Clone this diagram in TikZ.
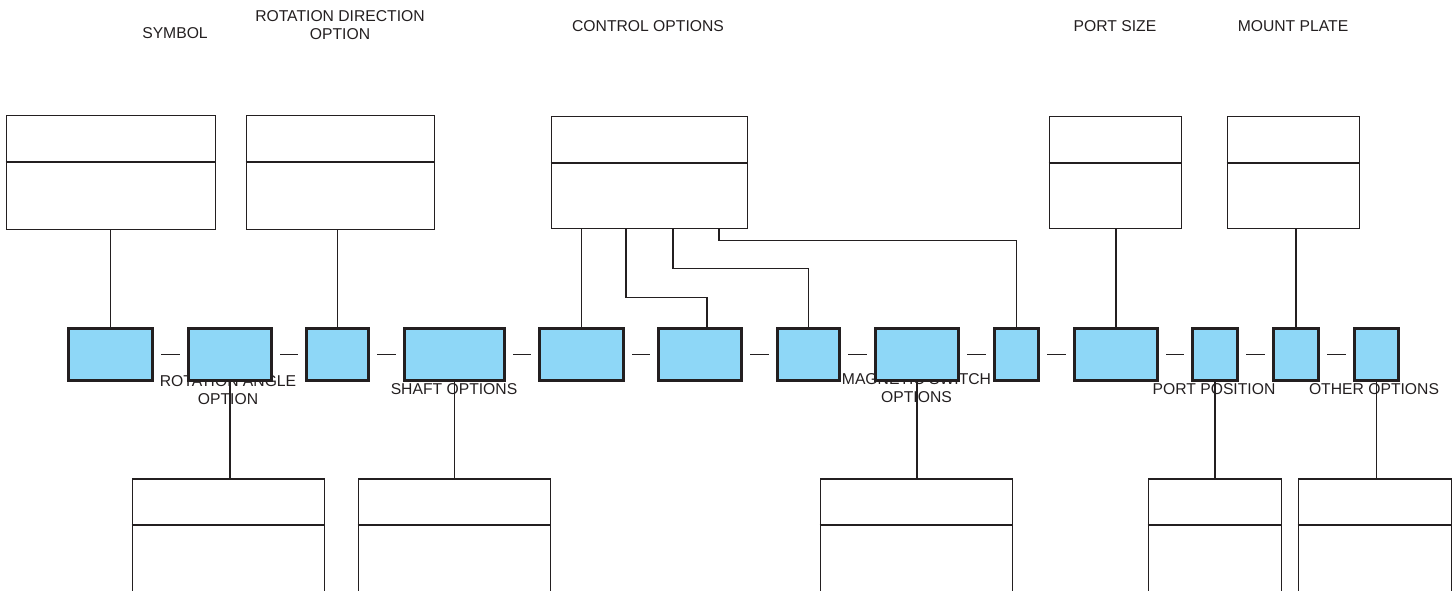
\documentclass[tikz,border=0pt]{standalone}
\usepackage{fontspec}
\setmainfont{Liberation Sans}
\definecolor{ink}{RGB}{35,31,32}
\definecolor{optblue}{RGB}{142,215,247}
\tikzset{
	optbox/.style={draw=ink, fill=optblue, line width=3pt, minimum height=52pt, inner sep=0pt},
	groupbox/.style={draw=ink, fill=white, line width=1.7pt, inner sep=0pt},
	title/.style={text=ink, align=center, inner sep=0pt, font=\fontsize{15.7}{18}\selectfont},
	link/.style={draw=ink, line width=1.7pt},
}
\begin{document}
\begin{tikzpicture}[x=1pt, y=-1pt]
		\useasboundingbox (0,0) rectangle (1456,591);
		\clip (0,0) rectangle (1456,591);
		
		% titles
		\node[title] (lsym) at (175,33) {SYMBOL};
		\node[title] (lrotdir) at (340,25.5) {ROTATION DIRECTION\\OPTION};
		\node[title] (lctrl) at (648,26) {CONTROL OPTIONS};
		\node[title] (lport) at (1115,26) {PORT SIZE};
		\node[title] (lmount) at (1293,26) {MOUNT PLATE};
		\node[title] (lrotang) at (228,390) {ROTATION ANGLE\\OPTION};
		\node[title] (lshaft) at (454,389.5) {SHAFT OPTIONS};
		\node[title] (lmag) at (916.5,388.5) {MAGNETIC SWITCH\\OPTIONS};
		\node[title] (lpos) at (1214,389.5) {PORT POSITION};
		\node[title] (lother) at (1374,389.5) {OTHER OPTIONS};
		
		% code row
		\node[optbox, minimum width=84pt] (a) at (110.5,354.5) {};
		\node[optbox, minimum width=83pt] (b) at (230,354.5) {};
		\node[optbox, minimum width=62pt] (c) at (337.5,354.5) {};
		\node[optbox, minimum width=100pt] (d) at (454.5,354.5) {};
		\node[optbox, minimum width=84pt] (e) at (581.5,354.5) {};
		\node[optbox, minimum width=83pt] (f) at (700,354.5) {};
		\node[optbox, minimum width=62pt] (g) at (808.5,354.5) {};
		\node[optbox, minimum width=83pt] (h) at (917,354.5) {};
		\node[optbox, minimum width=44pt] (i) at (1016.5,354.5) {};
		\node[optbox, minimum width=83pt] (j) at (1116,354.5) {};
		\node[optbox, minimum width=45pt] (k) at (1215,354.5) {};
		\node[optbox, minimum width=45pt] (l) at (1296,354.5) {};
		\node[optbox, minimum width=44pt] (m) at (1376.5,354.5) {};
		
		% upper groups
		\node[groupbox, minimum width=209pt, minimum height=114pt] (t1) at (111,172.5) {};
		\node[groupbox, minimum width=188pt, minimum height=114pt] (t2) at (340.5,172.5) {};
		\node[groupbox, minimum width=196pt, minimum height=112pt] (t3) at (649.5,172.5) {};
		\node[groupbox, minimum width=132pt, minimum height=112pt] (t4) at (1115.5,172.5) {};
		\node[groupbox, minimum width=132pt, minimum height=112pt] (t5) at (1293.5,172.5) {};
		
		% lower groups
		\node[groupbox, minimum width=192pt, minimum height=200pt] (b1) at (228.5,579) {};
		\node[groupbox, minimum width=192pt, minimum height=200pt] (b2) at (454.5,579) {};
		\node[groupbox, minimum width=192pt, minimum height=200pt] (b3) at (916.5,579) {};
		\node[groupbox, minimum width=133pt, minimum height=200pt] (b4) at (1215,579) {};
		\node[groupbox, minimum width=153pt, minimum height=200pt] (b5) at (1375,579) {};
		
		\foreach \n in {t1,t2,t3,t4,t5,b1,b2,b3,b4,b5}
			\draw[link] ([yshift=-47pt]\n.north west) -- ([yshift=-47pt]\n.north east);
		
		% dashes between codes
		\foreach \u/\v in {a/b,b/c,c/d,d/e,e/f,f/g,g/h,h/i,i/j,j/k,k/l,l/m}
			\path[link, shorten <=7pt, shorten >=7pt] (\u) edge (\v);
		
		% upper links
		\path[link] (a.north |- t1.south) edge (a.north);
		\path[link] (c.north |- t2.south) edge (c.north);
		\path[link] (e.north |- t3.south) edge (e.north);
		\draw[link] ([xshift=-23.5pt]t3.south) -- ++(0,68) -| ([xshift=7pt]f.north);
		\draw[link] ([xshift=23.5pt]t3.south) -- ++(0,39) -| (g.north);
		\draw[link] ([xshift=69.5pt]t3.south) -- ++(0,11) -| (i.north);
		\path[link] (j.north |- t4.south) edge (j.north);
		\path[link] (l.north |- t5.south) edge (l.north);
		
		% lower links
		\path[link] (b.south) edge (b.south |- b1.north);
		\path[link] (d.south) edge (d.south |- b2.north);
		\path[link] (h.south) edge (h.south |- b3.north);
		\path[link] (k.south) edge (k.south |- b4.north);
		\path[link] (m.south) edge (m.south |- b5.north);
\end{tikzpicture}
\end{document}
